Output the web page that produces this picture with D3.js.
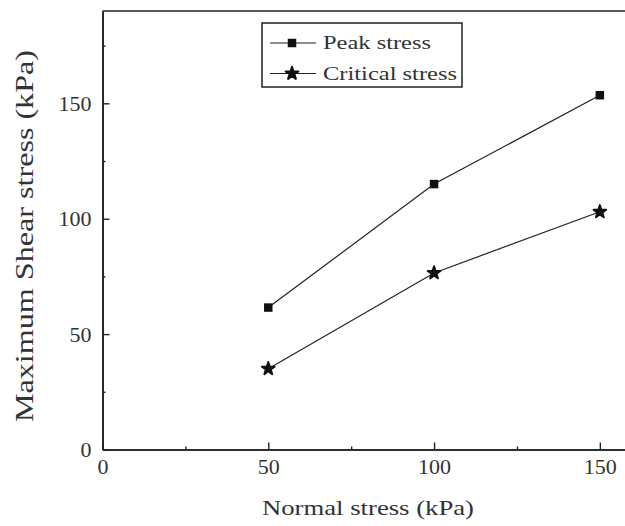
<!DOCTYPE html>
<html>
<head>
<meta charset="utf-8">
<script src="https://cdn.jsdelivr.net/npm/d3@7"></script>
<style>
  html, body { margin: 0; padding: 0; background: #fff; }
  svg { display: block; }
</style>
</head>
<body>
<svg id="chart" width="625" height="526"></svg>
<script>
// Normal stress applied in each test (kPa)
const normalStress = [50, 100, 150];
// Maximum shear stress measured (kPa)
const peakStress = [61.5, 115, 153.5];
const criticalStress = [35, 76.5, 103];

const xTickValues = [0, 50, 100, 150];
const xMinorTicks = [25, 75, 125];
const yTickValues = [0, 50, 100, 150];
const yMinorTicks = [25, 75, 125, 175];

const seriesNames = ["Peak stress", "Critical stress"];

const serif = "'Liberation Serif', 'DejaVu Serif', serif";
const svg = d3.select("#chart");
const ink = "#222";

const x = d3.scaleLinear().domain([0, 160]).range([102.5, 633]);
const y = d3.scaleLinear().domain([0, 190]).range([449.5, 11]);

// top frame line
svg.append("line")
  .attr("x1", x(0)).attr("x2", x(160))
  .attr("y1", y(190)).attr("y2", y(190))
  .attr("stroke", ink).attr("stroke-width", 1.6);

function styleAxis(g) {
  g.attr("font-family", serif).attr("font-size", 22);
  g.select(".domain").attr("stroke", ink).attr("stroke-width", 1.6);
  g.selectAll(".tick line").attr("stroke", ink).attr("stroke-width", 1.4);
  g.selectAll(".tick text").attr("fill", "#333");
}

// x axis: inward major ticks + minor ticks
svg.append("g")
  .attr("transform", `translate(0,${y(0)})`)
  .call(d3.axisBottom(x).tickValues(xMinorTicks).tickSizeInner(-3).tickSizeOuter(0).tickFormat(""))
  .call(styleAxis);
svg.append("g")
  .attr("transform", `translate(0,${y(0)})`)
  .call(d3.axisBottom(x).tickValues(xTickValues).tickSizeInner(-7).tickSizeOuter(0).tickPadding(9))
  .call(styleAxis);

// y axis
svg.append("g")
  .attr("transform", `translate(${x(0)},0)`)
  .call(d3.axisLeft(y).tickValues(yMinorTicks).tickSizeInner(-3).tickSizeOuter(0).tickFormat(""))
  .call(styleAxis);
svg.append("g")
  .attr("transform", `translate(${x(0)},0)`)
  .call(d3.axisLeft(y).tickValues(yTickValues).tickSizeInner(-7).tickSizeOuter(0).tickPadding(11))
  .call(styleAxis);

// axis titles
svg.append("text")
  .attr("x", 368).attr("y", 515)
  .attr("text-anchor", "middle")
  .attr("font-family", serif)
  .attr("font-size", 22)
  .attr("fill", "#333")
  .attr("textLength", 212).attr("lengthAdjust", "spacingAndGlyphs")
  .text("Normal stress (kPa)");

svg.append("text")
  .attr("transform", "translate(33,236) rotate(-90)")
  .attr("text-anchor", "middle")
  .attr("font-family", serif)
  .attr("font-size", 25)
  .attr("fill", "#333")
  .attr("textLength", 372).attr("lengthAdjust", "spacingAndGlyphs")
  .text("Maximum Shear stress (kPa)");

// series
const line = d3.line().x(d => x(d[0])).y(d => y(d[1]));
const series = [
  { name: seriesNames[0], values: peakStress, symbol: d3.symbolSquare, size: 72 },
  { name: seriesNames[1], values: criticalStress, symbol: d3.symbolStar, size: 50 }
];

series.forEach(s => {
  const pts = normalStress.map((v, i) => [v, s.values[i]]);
  svg.append("path")
    .datum(pts)
    .attr("d", line)
    .attr("fill", "none")
    .attr("stroke", ink)
    .attr("stroke-width", 1.2);
  svg.selectAll(null)
    .data(pts)
    .enter().append("path")
    .attr("transform", d => `translate(${x(d[0])},${y(d[1])})`)
    .attr("d", d3.symbol().type(s.symbol).size(s.size))
    .attr("fill", "#111")
    .attr("stroke", "#111")
    .attr("stroke-width", s.symbol === d3.symbolStar ? 2 : 0)
    .attr("stroke-linejoin", "round");
});

// legend
const legend = svg.append("g");
legend.append("rect")
  .attr("x", 262).attr("y", 23).attr("width", 200).attr("height", 64)
  .attr("fill", "#fff").attr("stroke", ink).attr("stroke-width", 1.5);

const rowY = [43, 73.5];
const textY = [49, 80];
const textLen = [108, 134];
series.forEach((s, i) => {
  legend.append("line")
    .attr("x1", 270).attr("x2", 316)
    .attr("y1", rowY[i]).attr("y2", rowY[i])
    .attr("stroke", ink).attr("stroke-width", 1.2);
  legend.append("path")
    .attr("transform", `translate(292,${rowY[i]})`)
    .attr("d", d3.symbol().type(s.symbol).size(s.size))
    .attr("fill", "#111")
    .attr("stroke", "#111")
    .attr("stroke-width", s.symbol === d3.symbolStar ? 2 : 0)
    .attr("stroke-linejoin", "round");
  legend.append("text")
    .attr("x", 323).attr("y", textY[i])
    .attr("font-family", serif)
    .attr("font-size", 19)
    .attr("fill", "#333")
    .attr("textLength", textLen[i]).attr("lengthAdjust", "spacingAndGlyphs")
    .text(s.name);
});
</script>
</body>
</html>
